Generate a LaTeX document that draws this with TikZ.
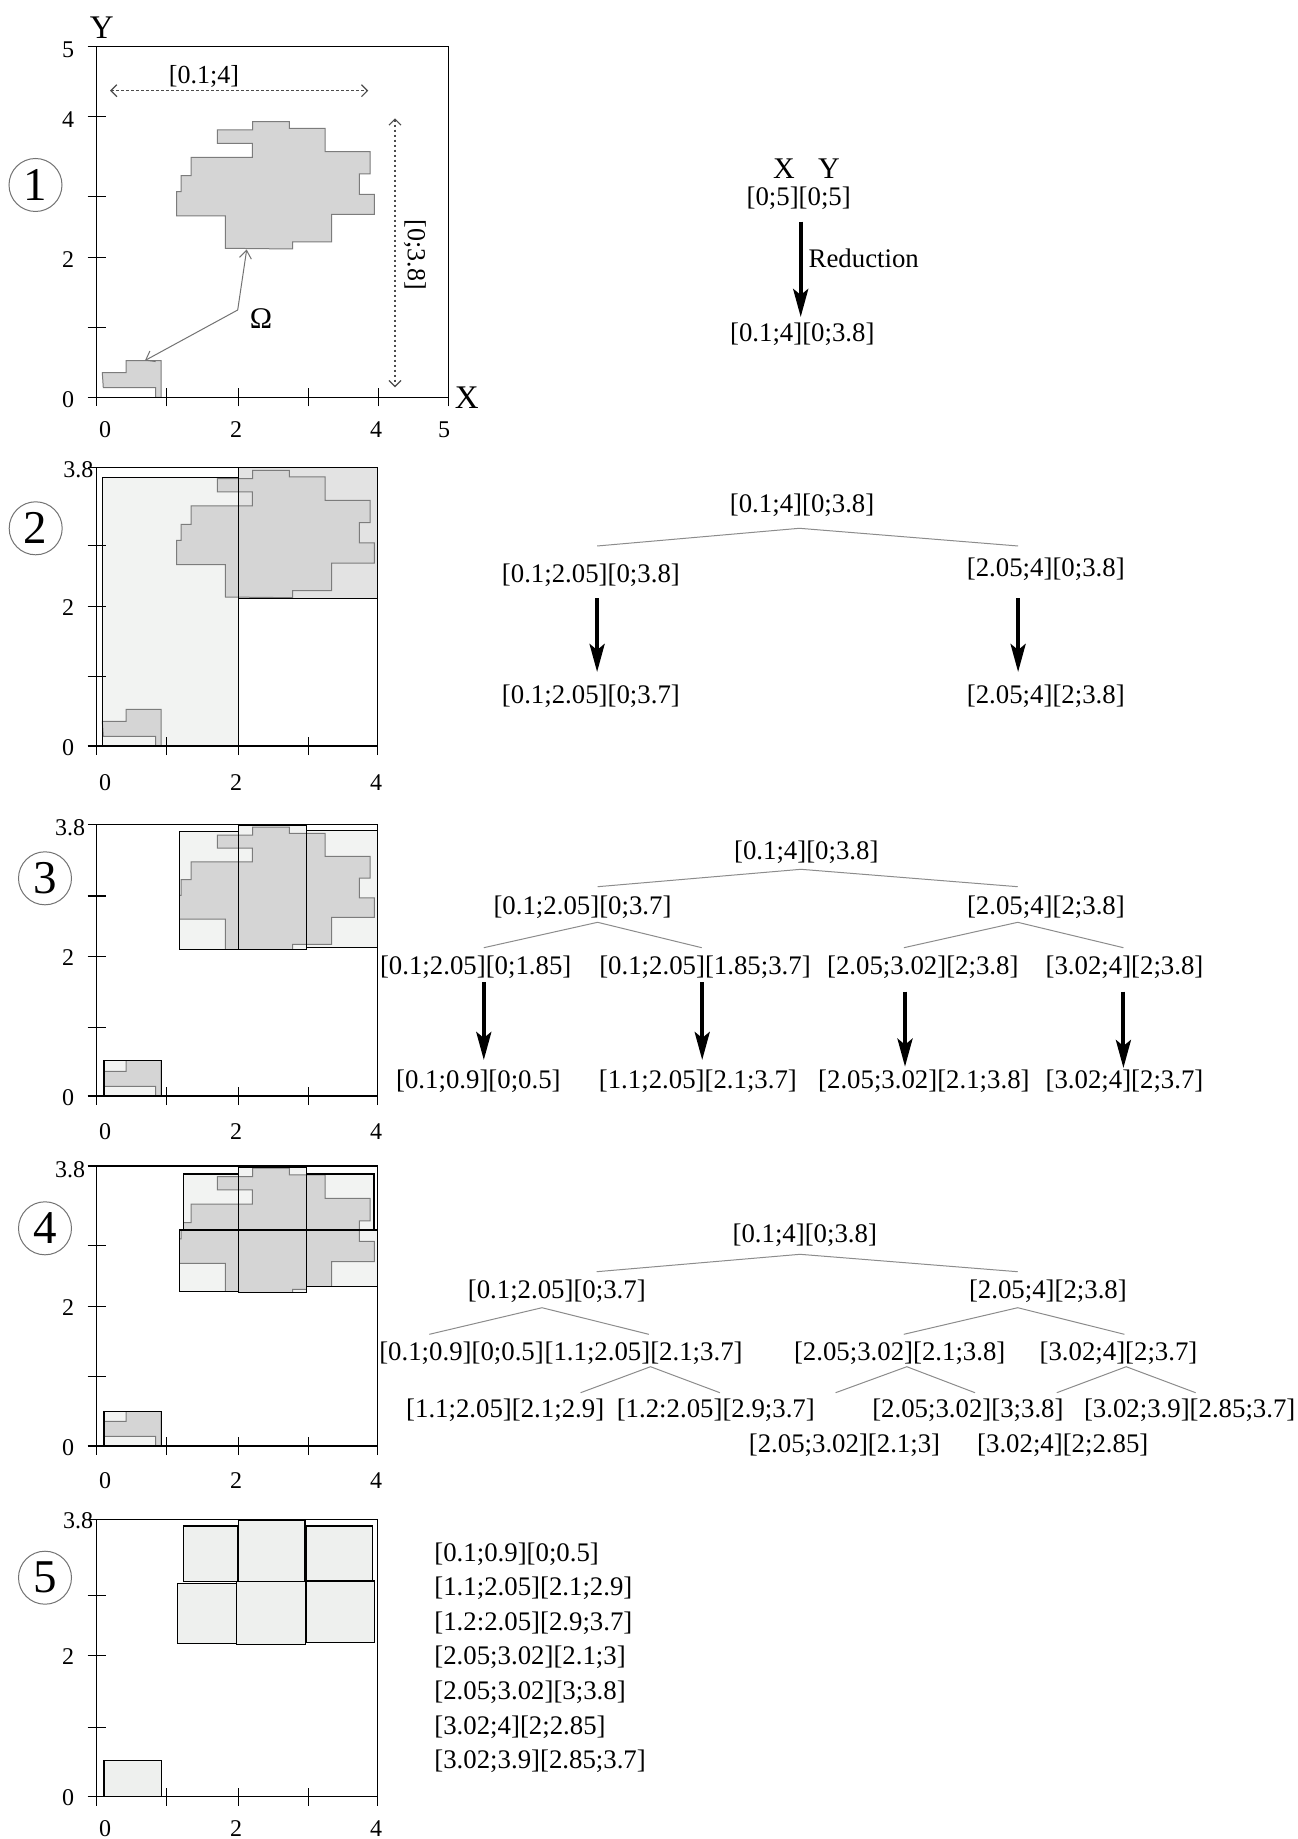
\documentclass[tikz,border=0pt]{standalone}
\usepackage{fontspec}
\setmainfont{Liberation Serif}
\usetikzlibrary{arrows.meta}
\definecolor{cloudf}{HTML}{D5D5D5}
\definecolor{cloudd}{HTML}{7C7C7C}
\definecolor{lightf}{HTML}{F2F3F2}
\definecolor{midf}{HTML}{E3E3E3}
\definecolor{boxf}{HTML}{EEF0EE}
\newcommand\cloudshape[1]{\path[#1] (156,275.6) -- (192.6,275.6) -- (192.6,269) -- (228.3,269) -- (228.3,245.6) -- (273.3,245.6) -- (273.3,223.3) -- (262.6,223.3) -- (262.6,203) -- (277.6,203) -- (277.6,183) -- (235,183) -- (235,155.3) -- (196,155.3) -- (196,148.3) -- (128.6,149) -- (128.6,181.3) -- (80,181.3) -- (80,205.6) -- (84.3,205.6) -- (84.3,221.6) -- (94.3,221.6) -- (94.3,240) -- (155.6,240) -- (155.6,254) -- (120.6,254) -- (120.6,267.3) -- (156,267.3) -- cycle;}
\newcommand\smallshape[1]{\path[#1] (5.6,24.6) -- (29.3,24.6) -- (29.3,36.6) -- (64.3,36.6) -- (64.3,0) -- (59,0) -- (59,9.6) -- (6.6,9.6) -- cycle;}
% #1 origin y, #2 top, #3 right, #4 y ticks, #5 x ticks
\newcommand\axesbox[5]{%
\begin{scope}[shift={(96.7,#1)},yscale=-1]
\draw[axl] (0,0) rectangle (#3,#2);
\draw[axl] (-9,0) -- (0,0) -- (0,-9);
\foreach \t in {#4} {\draw[axl] (-9,\t) -- (9,\t);}
\foreach \t in {#5} {\draw[axl] (\t,-9) -- (\t,9);}
\end{scope}}
\begin{document}
\begin{tikzpicture}[x={(0.5pt,0)}, y={(0,-0.5pt)},
  axl/.style={line width=0.65pt, black},
  numl/.style={font=\fontsize{12}{14}\selectfont, inner sep=0pt},
  axname/.style={font=\fontsize{16.5}{18}\selectfont, inner sep=0pt},
  circnum/.style={circle, draw=black!55, line width=0.5pt, minimum size=26.5pt, inner sep=0pt, font=\fontsize{23.5}{25}\selectfont},
  tl/.style={font=\fontsize{13.4}{16}\selectfont, inner sep=0pt},
  tE/.style={font=\fontsize{13}{15}\selectfont, inner sep=0pt},
  tX/.style={font=\fontsize{15}{17}\selectfont, inner sep=0pt},
  edge/.style={draw=black!45, line width=0.5pt},
  bigarr/.style={line width=2pt, -{Stealth[length=14pt,width=7.5pt,inset=3pt]}},
  dotarr/.style={draw=black!70, line width=0.6pt, dash pattern=on 1.2pt off 1.3pt,
     {Straight Barb[length=3pt,width=6pt]}-{Straight Barb[length=3pt,width=6pt]}},
  omarr/.style={draw=black!55, line width=0.5pt, -{Straight Barb[length=4pt,width=6pt]}},
  cloudst/.style={fill=cloudf, draw=cloudd, line width=0.5pt},
  rectb/.style={draw=black, line width=0.7pt}]
\fill[white, use as bounding box] (0,0) rectangle (1297,1839);

% ================= Panel 1 =================
\begin{scope}[shift={(96.7,397.3)}, yscale=-1]
  \cloudshape{cloudst}
  \smallshape{cloudst}
\end{scope}
\axesbox{397.3}{350.6}{351.6}{70.1,139.6,200.6,280.6,350.6}{70,141.6,211.6,281.6,351.6}
\node[numl] (y15) at (68,50) {5};
\node[numl] (y14) at (68,120) {4};
\node[numl] (y12) at (68,260) {2};
\node[numl] (y10) at (68,400) {0};
\node[numl] (x10) at (105,430) {0};
\node[numl] (x12) at (236,430) {2};
\node[numl] (x14) at (376,430) {4};
\node[numl] (x15) at (444,430) {5};
\node[axname] (axY) at (101.7,28) {Y};
\node[axname] (axX) at (466.7,398) {X};
\node[circnum] (c1) at (35.5,185) {1};
\coordinate (hx1) at (110,90.7);
\coordinate (hx2) at (368.3,90.7);
\draw[dotarr] (hx1) -- (hx2);
\node[tE] (hlab) at (204,76.7) {[0.1;4]};
\coordinate (vy1) at (395,118.3);
\coordinate (vy2) at (395,387.3);
\draw[dotarr] (vy1) -- (vy2);
\node[tE, rotate=-90] (vlab) at (415,255) {[0;3.8]};
\node[tX] (om) at (261,318.3) {Ω};
\coordinate (oj) at (237.7,310);
\coordinate (ot1) at (246.7,249.5);
\coordinate (ot2) at (145,360.5);
\draw[omarr] (oj) -- (ot1);
\draw[omarr] (oj) -- (ot2);

% tree 1
\node[tX] (tx) at (784,168.3) {X};
\node[tX] (ty) at (829,168.3) {Y};
\node[tl] (p1a) at (798.7,198.3) {[0;5][0;5]};
\node[tl] (p1b) at (802.3,334) {[0.1;4][0;3.8]};
\node[tl, anchor=west] (red) at (808.3,258.3) {Reduction};
\coordinate (a1s) at (800.7,221.7);
\coordinate (a1e) at (800.7,317);
\draw[bigarr] (a1s) -- (a1e);

% ================= Panel 2 =================
\begin{scope}[shift={(96.7,746)}, yscale=-1]
  \fill[lightf] (5.6,0) rectangle (141.6,268.7);
  \fill[midf] (141.6,147.7) rectangle (281,278.3);
  \cloudshape{cloudst}
  \smallshape{cloudst}
  \draw[rectb] (5.6,0) rectangle (141.6,268.7);
  \draw[rectb] (141.6,147.7) rectangle (281,278.3);
\end{scope}
\axesbox{746}{278.3}{281}{69.3,139.3,200.5,278.3}{70,141.6,211.6,281}
\node[numl] (y23) at (78.3,470) {3.8};
\node[numl] (y22) at (68,608) {2};
\node[numl] (y20) at (68,748) {0};
\node[numl] (x20) at (105,783) {0};
\node[numl] (x22) at (236,783) {2};
\node[numl] (x24) at (376,783) {4};
\node[circnum] (c2) at (35.7,528.3) {2};

% tree 2
\node[tl] (r2) at (802.1,505) {[0.1;4][0;3.8]};
\node[tl] (l2) at (590.9,575) {[0.1;2.05][0;3.8]};
\node[tl] (m2) at (1045.8,569) {[2.05;4][0;3.8]};
\node[tl] (l2b) at (590.9,696.7) {[0.1;2.05][0;3.7]};
\node[tl] (m2b) at (1045.8,696.7) {[2.05;4][2;3.8]};
\coordinate (r2a) at (799.4,528.3);
\coordinate (r2l) at (597.1,546);
\coordinate (r2r) at (1018.1,546);
\draw[edge] (r2l) -- (r2a) -- (r2r);
\coordinate (a2ls) at (597.1,598.3);
\coordinate (a2le) at (597.1,672);
\coordinate (a2rs) at (1018.1,598.3);
\coordinate (a2re) at (1018.1,672);
\draw[bigarr] (a2ls) -- (a2le);
\draw[bigarr] (a2rs) -- (a2re);

% ================= Panel 3 =================
\begin{scope}[shift={(96.7,1096)}, yscale=-1]
  \fill[lightf] (82.6,146.7) rectangle (141.6,264.3) (141.6,146.7) rectangle (210,271)
     (210,148.7) rectangle (281,265.3) (7.3,0) rectangle (64.6,35.3);
  \begin{scope}
    \clip (82.6,146.7) rectangle (141.6,264.3) (141.6,146.7) rectangle (210,271)
     (210,148.7) rectangle (281,265.3) (7.3,0) rectangle (64.6,35.3);
    \begin{scope}[yscale=0.976]
      \cloudshape{cloudst}
    \end{scope}
    \smallshape{cloudst}
  \end{scope}
  \draw[rectb] (82.6,146.7) rectangle (141.6,264.3);
  \draw[rectb] (141.6,146.7) rectangle (210,271);
  \draw[rectb] (210,148.7) rectangle (281,265.3);
  \draw[rectb] (7.3,0) rectangle (64.6,35.3);
\end{scope}
\axesbox{1096}{271.7}{281}{68.7,139.3,200,271.7}{70,141.6,211.6,281}
\node[numl] (y33) at (70,828) {3.8};
\node[numl] (y32) at (68,958) {2};
\node[numl] (y30) at (68,1098) {0};
\node[numl] (x30) at (105,1132) {0};
\node[numl] (x32) at (236,1132) {2};
\node[numl] (x34) at (376,1132) {4};
\node[circnum] (c3) at (45,878.3) {3};

% tree 3
\node[tl] (r3) at (806.3,852.3) {[0.1;4][0;3.8]};
\node[tl] (l3) at (582.5,907.3) {[0.1;2.05][0;3.7]};
\node[tl] (m3) at (1045.9,907.3) {[2.05;4][2;3.8]};
\node[tl] (l3a) at (475.7,967.7) {[0.1;2.05][0;1.85]};
\node[tl] (l3b) at (705,967.7) {[0.1;2.05][1.85;3.7]};
\node[tl] (m3a) at (922.8,967.7) {[2.05;3.02][2;3.8]};
\node[tl] (m3b) at (1124.5,967.7) {[3.02;4][2;3.8]};
\node[tl] (l3c) at (478.4,1081.7) {[0.1;0.9][0;0.5]};
\node[tl] (l3d) at (697.9,1081.7) {[1.1;2.05][2.1;3.7]};
\node[tl] (m3c) at (923.9,1081.7) {[2.05;3.02][2.1;3.8]};
\node[tl] (m3d) at (1124.5,1081.7) {[3.02;4][2;3.7]};
\coordinate (r3a) at (800.9,869.3);
\coordinate (r3l) at (597.6,886.7);
\coordinate (r3r) at (1017.7,886.7);
\draw[edge] (r3l) -- (r3a) -- (r3r);
\coordinate (l3x) at (597.6,922.3);
\coordinate (l3xl) at (483.8,947.7);
\coordinate (l3xr) at (701.7,947.7);
\draw[edge] (l3xl) -- (l3x) -- (l3xr);
\coordinate (m3x) at (1017.7,922.3);
\coordinate (m3xl) at (903.9,947.7);
\coordinate (m3xr) at (1123.4,947.7);
\draw[edge] (m3xl) -- (m3x) -- (m3xr);
\coordinate (a31s) at (483.8,982.3);  \coordinate (a31e) at (483.8,1060);
\coordinate (a32s) at (702.2,982.3);  \coordinate (a32e) at (702.2,1060);
\coordinate (a33s) at (905,991.7);    \coordinate (a33e) at (905,1066.7);
\coordinate (a34s) at (1123.4,991.7); \coordinate (a34e) at (1123.4,1068);
\draw[bigarr] (a31s) -- (a31e);
\draw[bigarr] (a32s) -- (a32e);
\draw[bigarr] (a33s) -- (a33e);
\draw[bigarr] (a34s) -- (a34e);

% ================= Panel 4 =================
\begin{scope}[shift={(96.7,1446)}, yscale=-1]
  \fill[lightf] (86.6,216) rectangle (141.6,272) (82.6,154.3) rectangle (141.6,216)
     (141.6,216) rectangle (210,278.3) (141.6,153.3) rectangle (210,216)
     (210,216) rectangle (277.3,272) (210,159.3) rectangle (281,216)
     (7.3,0) rectangle (64.6,34.3);
  \begin{scope}
    \clip (86.6,216) rectangle (141.6,272) (82.6,154.3) rectangle (141.6,216)
     (141.6,216) rectangle (210,278.3) (141.6,153.3) rectangle (210,216)
     (210,216) rectangle (277.3,272) (210,159.3) rectangle (281,216)
     (7.3,0) rectangle (64.6,34.3);
    \begin{scope}[yscale=1.008]
      \cloudshape{cloudst}
    \end{scope}
    \smallshape{cloudst}
  \end{scope}
  \draw[rectb] (86.6,216) rectangle (141.6,272);
  \draw[rectb] (82.6,154.3) rectangle (141.6,216);
  \draw[rectb] (141.6,216) rectangle (210,278.3);
  \draw[rectb] (141.6,153.3) rectangle (210,216);
  \draw[rectb] (210,216) rectangle (277.3,272);
  \draw[rectb] (210,159.3) rectangle (281,216);
  \draw[rectb] (7.3,0) rectangle (64.6,34.3);
\end{scope}
\axesbox{1446}{280}{281}{69.3,139.3,200.7,280}{70,141.6,211.6,281}
\node[numl] (y43) at (70,1170) {3.8};
\node[numl] (y42) at (68,1308) {2};
\node[numl] (y40) at (68,1448) {0};
\node[numl] (x40) at (105,1481) {0};
\node[numl] (x42) at (236,1481) {2};
\node[numl] (x44) at (376,1481) {4};
\node[circnum] (c4) at (45,1228.3) {4};

% tree 4
\node[tl] (r4) at (804.8,1235) {[0.1;4][0;3.8]};
\node[tl] (l4) at (556.8,1291.7) {[0.1;2.05][0;3.7]};
\node[tl] (m4) at (1047.9,1291.7) {[2.05;4][2;3.8]};
\node[tl, anchor=west] (l4a) at (378.9,1353.3) {[0.1;0.9][0;0.5]};
\node[tl, anchor=west] (l4b) at (l4a.east) {[1.1;2.05][2.1;3.7]};
\node[tl] (m4a) at (899.7,1353.3) {[2.05;3.02][2.1;3.8]};
\node[tl] (m4b) at (1118.5,1353.3) {[3.02;4][2;3.7]};
\node[tl] (q1) at (505.2,1410) {[1.1;2.05][2.1;2.9]};
\node[tl] (q2) at (715.8,1410) {[1.2:2.05][2.9;3.7]};
\node[tl] (q3) at (967.9,1410) {[2.05;3.02][3;3.8]};
\node[tl] (q4) at (1189.7,1410) {[3.02;3.9][2.85;3.7]};
\node[tl] (q5) at (844.5,1445) {[2.05;3.02][2.1;3]};
\node[tl] (q6) at (1062.8,1445) {[3.02;4][2;2.85]};
\coordinate (r4a) at (800,1254.3);
\coordinate (r4l) at (596.6,1271.7);
\coordinate (r4r) at (1017.7,1271.7);
\draw[edge] (r4l) -- (r4a) -- (r4r);
\coordinate (l4x) at (542,1307.7);
\coordinate (l4xl) at (429.3,1334.3);
\coordinate (l4xr) at (648.8,1334.3);
\draw[edge] (l4xl) -- (l4x) -- (l4xr);
\coordinate (m4x) at (1017.7,1307.7);
\coordinate (m4xl) at (903.8,1334.3);
\coordinate (m4xr) at (1124.4,1334.3);
\draw[edge] (m4xl) -- (m4x) -- (m4xr);
\coordinate (b1x) at (650.5,1366.7);
\coordinate (b1l) at (580.6,1392.7);
\coordinate (b1r) at (719.9,1392.7);
\draw[edge] (b1l) -- (b1x) -- (b1r);
\coordinate (b2x) at (906.8,1366.7);
\coordinate (b2l) at (835.6,1392.7);
\coordinate (b2r) at (975,1392.7);
\draw[edge] (b2l) -- (b2x) -- (b2r);
\coordinate (b3x) at (1126.2,1366.7);
\coordinate (b3l) at (1056.8,1392.7);
\coordinate (b3r) at (1195.6,1392.7);
\draw[edge] (b3l) -- (b3x) -- (b3r);

% ================= Panel 5 =================
\begin{scope}[shift={(96.7,1796.7)}, yscale=-1]
  \filldraw[fill=boxf, rectb] (86.6,215) rectangle (141,270.7);
  \filldraw[fill=boxf, rectb] (81,153.4) rectangle (140,213.4);
  \filldraw[fill=boxf, rectb] (141.6,215) rectangle (208.3,276.7);
  \filldraw[fill=boxf, rectb] (140,152.4) rectangle (209,215);
  \filldraw[fill=boxf, rectb] (209.3,215.7) rectangle (276,270.7);
  \filldraw[fill=boxf, rectb] (209.3,154.4) rectangle (277.6,215.7);
  \filldraw[fill=boxf, rectb] (7.3,0) rectangle (64.6,36);
\end{scope}
\axesbox{1796.7}{277.3}{281}{69.3,141,201,277.3}{70,141.6,211.6,281}
\node[numl] (y53) at (78,1521) {3.8};
\node[numl] (y52) at (68,1657) {2};
\node[numl] (y50) at (68,1798) {0};
\node[numl] (x50) at (105,1829) {0};
\node[numl] (x52) at (236,1829) {2};
\node[numl] (x54) at (376,1829) {4};
\node[circnum] (c5) at (45,1577.7) {5};

% list 5
\node[tl, anchor=west] (s1) at (434,1553.8) {[0.1;0.9][0;0.5]};
\node[tl, anchor=west] (s2) at (434,1588.4) {[1.1;2.05][2.1;2.9]};
\node[tl, anchor=west] (s3) at (434,1623) {[1.2:2.05][2.9;3.7]};
\node[tl, anchor=west] (s4) at (434,1657.6) {[2.05;3.02][2.1;3]};
\node[tl, anchor=west] (s5) at (434,1692.2) {[2.05;3.02][3;3.8]};
\node[tl, anchor=west] (s6) at (434,1726.8) {[3.02;4][2;2.85]};
\node[tl, anchor=west] (s7) at (434,1761.4) {[3.02;3.9][2.85;3.7]};
\end{tikzpicture}
\end{document}
